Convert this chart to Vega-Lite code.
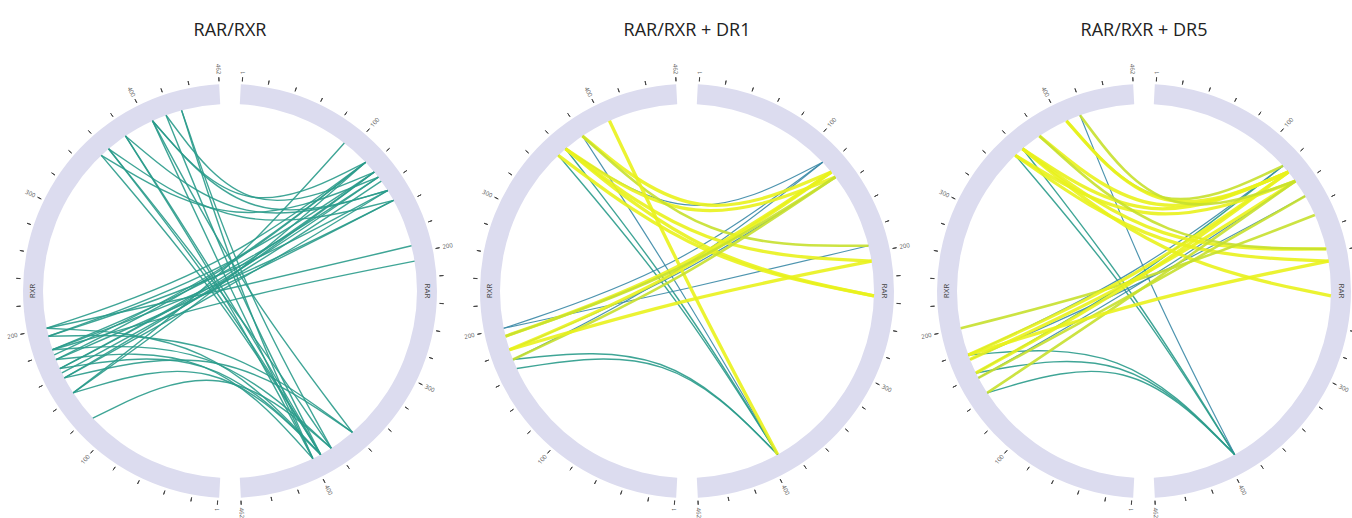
{
  "$schema": "https://vega.github.io/schema/vega-lite/v6.json",
  "padding": {"left": 6, "top": 21, "right": 0, "bottom": 0},
  "bounds": "flush",
  "spacing": 17,
  "config": {"view": {"stroke": null}, "font": "Open Sans"},
  "datasets": {
    "segs": [
      {"seg": "RAR", "start": 0, "end": 462, "mid": 231},
      {"seg": "RXR", "start": 0, "end": 462, "mid": 231}
    ],
    "ticks": [
      {"pos": 1, "lab": "1"}, {"pos": 20, "lab": ""}, {"pos": 40, "lab": ""}, {"pos": 60, "lab": ""}, {"pos": 80, "lab": ""},
      {"pos": 100, "lab": "100"}, {"pos": 120, "lab": ""}, {"pos": 140, "lab": ""}, {"pos": 160, "lab": ""}, {"pos": 180, "lab": ""},
      {"pos": 200, "lab": "200"}, {"pos": 220, "lab": ""}, {"pos": 240, "lab": ""}, {"pos": 260, "lab": ""}, {"pos": 280, "lab": ""},
      {"pos": 300, "lab": "300"}, {"pos": 320, "lab": ""}, {"pos": 340, "lab": ""}, {"pos": 360, "lab": ""}, {"pos": 380, "lab": ""},
      {"pos": 400, "lab": "400"}, {"pos": 420, "lab": ""}, {"pos": 440, "lab": ""}, {"pos": 462, "lab": "462"}
    ],
    "sites": [
      {"site": "c", "x": 0, "y": 0},
      {"site": "r38", "x": 0.6115, "y": 0.7912},
      {"site": "r46", "x": 0.7254, "y": 0.6884},
      {"site": "r48", "x": 0.7431, "y": 0.6691},
      {"site": "r50", "x": 0.7716, "y": 0.6361},
      {"site": "r52", "x": 0.7934, "y": 0.6088},
      {"site": "r54", "x": 0.8090, "y": 0.5878},
      {"site": "r57", "x": 0.8434, "y": 0.5373},
      {"site": "r59", "x": 0.8616, "y": 0.5075},
      {"site": "r61", "x": 0.8746, "y": 0.4848},
      {"site": "r66", "x": 0.9135, "y": 0.4067},
      {"site": "r76", "x": 0.9703, "y": 0.2419},
      {"site": "r77", "x": 0.9744, "y": 0.2250},
      {"site": "r81", "x": 0.9871, "y": 0.1599},
      {"site": "r91", "x": 0.9997, "y": -0.0262},
      {"site": "b139", "x": 0.6547, "y": -0.7559},
      {"site": "b147", "x": 0.5417, "y": -0.8406},
      {"site": "b151", "x": 0.4848, "y": -0.8746},
      {"site": "b154", "x": 0.4431, "y": -0.8965},
      {"site": "t316", "x": -0.6884, "y": 0.7254},
      {"site": "t319", "x": -0.6494, "y": 0.7604},
      {"site": "t326", "x": -0.5592, "y": 0.8290},
      {"site": "t335", "x": -0.4147, "y": 0.9100},
      {"site": "t340", "x": -0.3420, "y": 0.9397},
      {"site": "t345", "x": -0.2588, "y": 0.9659},
      {"site": "l227", "x": -0.7337, "y": -0.6794},
      {"site": "l237", "x": -0.8387, "y": -0.5446},
      {"site": "l242", "x": -0.8854, "y": -0.4648},
      {"site": "l244", "x": -0.8988, "y": -0.4384},
      {"site": "l245", "x": -0.9100, "y": -0.4147},
      {"site": "l248", "x": -0.9304, "y": -0.3665},
      {"site": "l250", "x": -0.9397, "y": -0.3420},
      {"site": "l252", "x": -0.9494, "y": -0.3140},
      {"site": "l256", "x": -0.9703, "y": -0.2419},
      {"site": "l258", "x": -0.9799, "y": -0.1994}
    ],
    "chords": [
      {"panel": 1, "id": "1-01", "kind": "a", "s1": "l258", "s2": "c", "s3": "r46"},
      {"panel": 1, "id": "1-02", "kind": "a", "s1": "l256", "s2": "c", "s3": "r50"},
      {"panel": 1, "id": "1-03", "kind": "a", "s1": "l252", "s2": "c", "s3": "r52"},
      {"panel": 1, "id": "1-04", "kind": "a", "s1": "l248", "s2": "c", "s3": "r46"},
      {"panel": 1, "id": "1-05", "kind": "a", "s1": "l245", "s2": "c", "s3": "r50"},
      {"panel": 1, "id": "1-06", "kind": "a", "s1": "l242", "s2": "c", "s3": "r57"},
      {"panel": 1, "id": "1-07", "kind": "a", "s1": "l237", "s2": "c", "s3": "r46"},
      {"panel": 1, "id": "1-08", "kind": "a", "s1": "l252", "s2": "c", "s3": "r61"},
      {"panel": 1, "id": "1-09", "kind": "a", "s1": "l245", "s2": "c", "s3": "r52"},
      {"panel": 1, "id": "1-10", "kind": "a", "s1": "l242", "s2": "c", "s3": "r50"},
      {"panel": 1, "id": "1-11", "kind": "a", "s1": "l256", "s2": "c", "s3": "r57"},
      {"panel": 1, "id": "1-12", "kind": "a", "s1": "l248", "s2": "c", "s3": "r61"},
      {"panel": 1, "id": "1-13", "kind": "a", "s1": "l258", "s2": "c", "s3": "r76"},
      {"panel": 1, "id": "1-14", "kind": "a", "s1": "l252", "s2": "c", "s3": "r81"},
      {"panel": 1, "id": "1-15", "kind": "a", "s1": "l237", "s2": "c", "s3": "r38"},
      {"panel": 1, "id": "1-16", "kind": "a", "s1": "l250", "s2": "c", "s3": "r46"},
      {"panel": 1, "id": "1-17", "kind": "a", "s1": "l244", "s2": "c", "s3": "r54"},
      {"panel": 1, "id": "1-18", "kind": "a", "s1": "t316", "s2": "c", "s3": "b151"},
      {"panel": 1, "id": "1-19", "kind": "a", "s1": "t319", "s2": "c", "s3": "b147"},
      {"panel": 1, "id": "1-20", "kind": "a", "s1": "t326", "s2": "c", "s3": "b151"},
      {"panel": 1, "id": "1-21", "kind": "a", "s1": "t335", "s2": "c", "s3": "b154"},
      {"panel": 1, "id": "1-22", "kind": "a", "s1": "t340", "s2": "c", "s3": "b151"},
      {"panel": 1, "id": "1-23", "kind": "a", "s1": "t345", "s2": "c", "s3": "b147"},
      {"panel": 1, "id": "1-24", "kind": "a", "s1": "t335", "s2": "c", "s3": "b139"},
      {"panel": 1, "id": "1-25", "kind": "a", "s1": "t326", "s2": "c", "s3": "b154"},
      {"panel": 1, "id": "1-26", "kind": "a", "s1": "t319", "s2": "c", "s3": "b151"},
      {"panel": 1, "id": "1-27", "kind": "a", "s1": "t345", "s2": "c", "s3": "b154"},
      {"panel": 1, "id": "1-28", "kind": "a", "s1": "t335", "s2": "c", "s3": "r46"},
      {"panel": 1, "id": "1-29", "kind": "a", "s1": "t340", "s2": "c", "s3": "r50"},
      {"panel": 1, "id": "1-30", "kind": "a", "s1": "t326", "s2": "c", "s3": "r57"},
      {"panel": 1, "id": "1-31", "kind": "a", "s1": "t316", "s2": "c", "s3": "r52"},
      {"panel": 1, "id": "1-32", "kind": "a", "s1": "t319", "s2": "c", "s3": "r61"},
      {"panel": 1, "id": "1-33", "kind": "a", "s1": "t335", "s2": "c", "s3": "r57"},
      {"panel": 1, "id": "1-34", "kind": "a", "s1": "l258", "s2": "c", "s3": "b151"},
      {"panel": 1, "id": "1-35", "kind": "a", "s1": "l252", "s2": "c", "s3": "b147"},
      {"panel": 1, "id": "1-36", "kind": "a", "s1": "l245", "s2": "c", "s3": "b151"},
      {"panel": 1, "id": "1-37", "kind": "a", "s1": "l242", "s2": "c", "s3": "b139"},
      {"panel": 1, "id": "1-38", "kind": "a", "s1": "l237", "s2": "c", "s3": "b151"},
      {"panel": 1, "id": "1-39", "kind": "a", "s1": "l227", "s2": "c", "s3": "b147"},
      {"panel": 1, "id": "1-40", "kind": "a", "s1": "l248", "s2": "c", "s3": "b154"},
      {"panel": 1, "id": "1-41", "kind": "a", "s1": "l256", "s2": "c", "s3": "b139"},
      {"panel": 2, "id": "2-01", "kind": "a", "s1": "t316", "s2": "c", "s3": "b151"},
      {"panel": 2, "id": "2-02", "kind": "a", "s1": "t319", "s2": "c", "s3": "b151"},
      {"panel": 2, "id": "2-03", "kind": "b", "s1": "t326", "s2": "c", "s3": "b151"},
      {"panel": 2, "id": "2-04", "kind": "a", "s1": "l245", "s2": "c", "s3": "b151"},
      {"panel": 2, "id": "2-05", "kind": "a", "s1": "l248", "s2": "c", "s3": "b151"},
      {"panel": 2, "id": "2-06", "kind": "b", "s1": "l258", "s2": "c", "s3": "r46"},
      {"panel": 2, "id": "2-07", "kind": "b", "s1": "l252", "s2": "c", "s3": "r52"},
      {"panel": 2, "id": "2-08", "kind": "b", "s1": "l248", "s2": "c", "s3": "r46"},
      {"panel": 2, "id": "2-09", "kind": "b", "s1": "l258", "s2": "c", "s3": "r76"},
      {"panel": 2, "id": "2-10", "kind": "b", "s1": "t319", "s2": "c", "s3": "r46"},
      {"panel": 2, "id": "2-11", "kind": "d", "s1": "t326", "s2": "c", "s3": "r50"},
      {"panel": 2, "id": "2-12", "kind": "d", "s1": "t319", "s2": "c", "s3": "r52"},
      {"panel": 2, "id": "2-13", "kind": "d", "s1": "t319", "s2": "c", "s3": "r91"},
      {"panel": 2, "id": "2-14", "kind": "d", "s1": "t316", "s2": "c", "s3": "r91"},
      {"panel": 2, "id": "2-15", "kind": "d", "s1": "t319", "s2": "c", "s3": "r81"},
      {"panel": 2, "id": "2-16", "kind": "c", "s1": "t326", "s2": "c", "s3": "r76"},
      {"panel": 2, "id": "2-17", "kind": "d", "s1": "t335", "s2": "c", "s3": "b151"},
      {"panel": 2, "id": "2-18", "kind": "d", "s1": "l256", "s2": "c", "s3": "r50"},
      {"panel": 2, "id": "2-19", "kind": "d", "s1": "l252", "s2": "c", "s3": "r50"},
      {"panel": 2, "id": "2-20", "kind": "c", "s1": "l248", "s2": "c", "s3": "r52"},
      {"panel": 2, "id": "2-21", "kind": "d", "s1": "l252", "s2": "c", "s3": "r81"},
      {"panel": 2, "id": "2-22", "kind": "c", "s1": "l256", "s2": "c", "s3": "r52"},
      {"panel": 3, "id": "3-01", "kind": "a", "s1": "t316", "s2": "c", "s3": "b151"},
      {"panel": 3, "id": "3-02", "kind": "a", "s1": "t319", "s2": "c", "s3": "b151"},
      {"panel": 3, "id": "3-03", "kind": "b", "s1": "t340", "s2": "c", "s3": "b151"},
      {"panel": 3, "id": "3-04", "kind": "a", "s1": "l250", "s2": "c", "s3": "b151"},
      {"panel": 3, "id": "3-05", "kind": "a", "s1": "l244", "s2": "c", "s3": "b151"},
      {"panel": 3, "id": "3-06", "kind": "a", "s1": "l237", "s2": "c", "s3": "b151"},
      {"panel": 3, "id": "3-07", "kind": "a", "s1": "l244", "s2": "c", "s3": "r48"},
      {"panel": 3, "id": "3-08", "kind": "b", "s1": "l242", "s2": "c", "s3": "r54"},
      {"panel": 3, "id": "3-09", "kind": "b", "s1": "l248", "s2": "c", "s3": "r59"},
      {"panel": 3, "id": "3-10", "kind": "b", "s1": "l250", "s2": "c", "s3": "r48"},
      {"panel": 3, "id": "3-11", "kind": "d", "s1": "t319", "s2": "c", "s3": "r50"},
      {"panel": 3, "id": "3-12", "kind": "d", "s1": "t326", "s2": "c", "s3": "r50"},
      {"panel": 3, "id": "3-13", "kind": "d", "s1": "t316", "s2": "c", "s3": "r54"},
      {"panel": 3, "id": "3-14", "kind": "c", "s1": "t335", "s2": "c", "s3": "r48"},
      {"panel": 3, "id": "3-15", "kind": "d", "s1": "t319", "s2": "c", "s3": "r77"},
      {"panel": 3, "id": "3-16", "kind": "d", "s1": "t319", "s2": "c", "s3": "r91"},
      {"panel": 3, "id": "3-17", "kind": "d", "s1": "t316", "s2": "c", "s3": "r81"},
      {"panel": 3, "id": "3-18", "kind": "c", "s1": "t326", "s2": "c", "s3": "r77"},
      {"panel": 3, "id": "3-19", "kind": "c", "s1": "l258", "s2": "c", "s3": "r66"},
      {"panel": 3, "id": "3-20", "kind": "d", "s1": "l250", "s2": "c", "s3": "r50"},
      {"panel": 3, "id": "3-21", "kind": "d", "s1": "l248", "s2": "c", "s3": "r54"},
      {"panel": 3, "id": "3-22", "kind": "d", "s1": "l244", "s2": "c", "s3": "r50"},
      {"panel": 3, "id": "3-23", "kind": "c", "s1": "l242", "s2": "c", "s3": "r59"},
      {"panel": 3, "id": "3-24", "kind": "c", "s1": "l237", "s2": "c", "s3": "r54"},
      {"panel": 3, "id": "3-25", "kind": "d", "s1": "l250", "s2": "c", "s3": "r81"},
      {"panel": 3, "id": "3-26", "kind": "d", "s1": "t335", "s2": "c", "s3": "r50"},
      {"panel": 3, "id": "3-27", "kind": "c", "s1": "t340", "s2": "c", "s3": "r54"}
    ]
  },
  "hconcat": [
    {
      "width": 440, "height": 440,
      "title": {"text": "RAR/RXR", "frame": "group", "anchor": "middle", "offset": 10, "baseline": "alphabetic", "fontSize": 18, "fontWeight": "normal", "font": "Open Sans", "color": "#222222"},
      "layer": [
        {"layer": [
          {"data": {"name": "segs"}, "transform": [{"filter": "datum.seg === 'RAR'"}], "mark": {"type": "arc", "radius": 207, "radius2": 187, "color": "#dcdcef"}, "encoding": {"theta": {"field": "start", "type": "quantitative", "stack": null, "scale": {"domain": [0, 462], "range": [0.05236, 3.08923]}}, "theta2": {"field": "end"}}},
          {"data": {"name": "ticks"}, "mark": {"type": "arc", "radius": 214, "radius2": 210, "filled": false, "color": "#444444", "strokeWidth": 1}, "encoding": {"theta": {"field": "pos", "type": "quantitative", "stack": null, "scale": {"domain": [0, 462], "range": [0.05236, 3.08923]}}, "theta2": {"field": "pos"}}},
          {"data": {"name": "ticks"}, "transform": [{"filter": "datum.lab !== ''"}], "mark": {"type": "text", "radius": 217, "align": "left", "baseline": "middle", "fontSize": 6, "color": "#555555"}, "encoding": {"theta": {"field": "pos", "type": "quantitative", "stack": null, "scale": {"domain": [0, 462], "range": [0.05236, 3.08923]}}, "angle": {"field": "pos", "type": "quantitative", "scale": {"domain": [0, 462], "range": [-87, 87]}}, "text": {"field": "lab"}}},
          {"data": {"name": "segs"}, "transform": [{"filter": "datum.seg === 'RAR'"}], "mark": {"type": "text", "radius": 197, "angle": 90, "align": "center", "baseline": "middle", "fontSize": 8, "color": "#444444"}, "encoding": {"theta": {"field": "mid", "type": "quantitative", "stack": null, "scale": {"domain": [0, 462], "range": [0.05236, 3.08923]}}, "text": {"field": "seg"}}}
        ]},
        {"layer": [
          {"data": {"name": "segs"}, "transform": [{"filter": "datum.seg === 'RXR'"}], "mark": {"type": "arc", "radius": 207, "radius2": 187, "color": "#dcdcef"}, "encoding": {"theta": {"field": "start", "type": "quantitative", "stack": null, "scale": {"domain": [0, 462], "range": [3.19395, 6.23083]}}, "theta2": {"field": "end"}}},
          {"data": {"name": "ticks"}, "mark": {"type": "arc", "radius": 214, "radius2": 210, "filled": false, "color": "#444444", "strokeWidth": 1}, "encoding": {"theta": {"field": "pos", "type": "quantitative", "stack": null, "scale": {"domain": [0, 462], "range": [3.19395, 6.23083]}}, "theta2": {"field": "pos"}}},
          {"data": {"name": "ticks"}, "transform": [{"filter": "datum.lab !== ''"}], "mark": {"type": "text", "radius": 217, "align": "right", "baseline": "middle", "fontSize": 6, "color": "#555555"}, "encoding": {"theta": {"field": "pos", "type": "quantitative", "stack": null, "scale": {"domain": [0, 462], "range": [3.19395, 6.23083]}}, "angle": {"field": "pos", "type": "quantitative", "scale": {"domain": [0, 462], "range": [-87, 87]}}, "text": {"field": "lab"}}},
          {"data": {"name": "segs"}, "transform": [{"filter": "datum.seg === 'RXR'"}], "mark": {"type": "text", "radius": 197, "angle": 270, "align": "center", "baseline": "middle", "fontSize": 8, "color": "#444444"}, "encoding": {"theta": {"field": "mid", "type": "quantitative", "stack": null, "scale": {"domain": [0, 462], "range": [3.19395, 6.23083]}}, "text": {"field": "seg"}}}
        ]},
        {"data": {"name": "chords"}, "transform": [{"filter": "datum.panel === 1"}, {"fold": ["s1", "s2", "s3"], "as": ["k", "site"]}, {"lookup": "site", "from": {"data": {"name": "sites"}, "key": "site", "fields": ["x", "y"]}}],
         "mark": {"type": "line", "interpolate": "bundle", "tension": 0.55, "opacity": 0.9},
         "encoding": {
           "x": {"field": "x", "type": "quantitative", "scale": {"domain": [-1.17647, 1.17647], "nice": false, "zero": false}, "axis": null},
           "y": {"field": "y", "type": "quantitative", "scale": {"domain": [-1.17647, 1.17647], "nice": false, "zero": false}, "axis": null},
           "detail": {"field": "id"},
           "order": {"field": "k", "type": "ordinal"},
           "color": {"field": "kind", "type": "nominal", "scale": {"domain": ["a", "b", "c", "d"], "range": ["#2a9b8b", "#3a88a6", "#c6e02e", "#e9f21c"]}, "legend": null},
           "strokeWidth": {"field": "kind", "type": "nominal", "scale": {"type": "ordinal", "domain": ["a", "b", "c", "d"], "range": [1.4, 1.2, 2.6, 3.3]}, "legend": null}
         }}
      ],
      "resolve": {"scale": {"theta": "independent"}}
    },
    {
      "width": 440, "height": 440,
      "title": {"text": "RAR/RXR + DR1", "frame": "group", "anchor": "middle", "offset": 10, "baseline": "alphabetic", "fontSize": 18, "fontWeight": "normal", "font": "Open Sans", "color": "#222222"},
      "layer": [
        {"layer": [
          {"data": {"name": "segs"}, "transform": [{"filter": "datum.seg === 'RAR'"}], "mark": {"type": "arc", "radius": 207, "radius2": 187, "color": "#dcdcef"}, "encoding": {"theta": {"field": "start", "type": "quantitative", "stack": null, "scale": {"domain": [0, 462], "range": [0.05236, 3.08923]}}, "theta2": {"field": "end"}}},
          {"data": {"name": "ticks"}, "mark": {"type": "arc", "radius": 214, "radius2": 210, "filled": false, "color": "#444444", "strokeWidth": 1}, "encoding": {"theta": {"field": "pos", "type": "quantitative", "stack": null, "scale": {"domain": [0, 462], "range": [0.05236, 3.08923]}}, "theta2": {"field": "pos"}}},
          {"data": {"name": "ticks"}, "transform": [{"filter": "datum.lab !== ''"}], "mark": {"type": "text", "radius": 217, "align": "left", "baseline": "middle", "fontSize": 6, "color": "#555555"}, "encoding": {"theta": {"field": "pos", "type": "quantitative", "stack": null, "scale": {"domain": [0, 462], "range": [0.05236, 3.08923]}}, "angle": {"field": "pos", "type": "quantitative", "scale": {"domain": [0, 462], "range": [-87, 87]}}, "text": {"field": "lab"}}},
          {"data": {"name": "segs"}, "transform": [{"filter": "datum.seg === 'RAR'"}], "mark": {"type": "text", "radius": 197, "angle": 90, "align": "center", "baseline": "middle", "fontSize": 8, "color": "#444444"}, "encoding": {"theta": {"field": "mid", "type": "quantitative", "stack": null, "scale": {"domain": [0, 462], "range": [0.05236, 3.08923]}}, "text": {"field": "seg"}}}
        ]},
        {"layer": [
          {"data": {"name": "segs"}, "transform": [{"filter": "datum.seg === 'RXR'"}], "mark": {"type": "arc", "radius": 207, "radius2": 187, "color": "#dcdcef"}, "encoding": {"theta": {"field": "start", "type": "quantitative", "stack": null, "scale": {"domain": [0, 462], "range": [3.19395, 6.23083]}}, "theta2": {"field": "end"}}},
          {"data": {"name": "ticks"}, "mark": {"type": "arc", "radius": 214, "radius2": 210, "filled": false, "color": "#444444", "strokeWidth": 1}, "encoding": {"theta": {"field": "pos", "type": "quantitative", "stack": null, "scale": {"domain": [0, 462], "range": [3.19395, 6.23083]}}, "theta2": {"field": "pos"}}},
          {"data": {"name": "ticks"}, "transform": [{"filter": "datum.lab !== ''"}], "mark": {"type": "text", "radius": 217, "align": "right", "baseline": "middle", "fontSize": 6, "color": "#555555"}, "encoding": {"theta": {"field": "pos", "type": "quantitative", "stack": null, "scale": {"domain": [0, 462], "range": [3.19395, 6.23083]}}, "angle": {"field": "pos", "type": "quantitative", "scale": {"domain": [0, 462], "range": [-87, 87]}}, "text": {"field": "lab"}}},
          {"data": {"name": "segs"}, "transform": [{"filter": "datum.seg === 'RXR'"}], "mark": {"type": "text", "radius": 197, "angle": 270, "align": "center", "baseline": "middle", "fontSize": 8, "color": "#444444"}, "encoding": {"theta": {"field": "mid", "type": "quantitative", "stack": null, "scale": {"domain": [0, 462], "range": [3.19395, 6.23083]}}, "text": {"field": "seg"}}}
        ]},
        {"data": {"name": "chords"}, "transform": [{"filter": "datum.panel === 2"}, {"fold": ["s1", "s2", "s3"], "as": ["k", "site"]}, {"lookup": "site", "from": {"data": {"name": "sites"}, "key": "site", "fields": ["x", "y"]}}],
         "mark": {"type": "line", "interpolate": "bundle", "tension": 0.55, "opacity": 0.9},
         "encoding": {
           "x": {"field": "x", "type": "quantitative", "scale": {"domain": [-1.17647, 1.17647], "nice": false, "zero": false}, "axis": null},
           "y": {"field": "y", "type": "quantitative", "scale": {"domain": [-1.17647, 1.17647], "nice": false, "zero": false}, "axis": null},
           "detail": {"field": "id"},
           "order": {"field": "k", "type": "ordinal"},
           "color": {"field": "kind", "type": "nominal", "scale": {"domain": ["a", "b", "c", "d"], "range": ["#2a9b8b", "#3a88a6", "#c6e02e", "#e9f21c"]}, "legend": null},
           "strokeWidth": {"field": "kind", "type": "nominal", "scale": {"type": "ordinal", "domain": ["a", "b", "c", "d"], "range": [1.4, 1.2, 2.6, 3.3]}, "legend": null}
         }}
      ],
      "resolve": {"scale": {"theta": "independent"}}
    },
    {
      "width": 440, "height": 440,
      "title": {"text": "RAR/RXR + DR5", "frame": "group", "anchor": "middle", "offset": 10, "baseline": "alphabetic", "fontSize": 18, "fontWeight": "normal", "font": "Open Sans", "color": "#222222"},
      "layer": [
        {"layer": [
          {"data": {"name": "segs"}, "transform": [{"filter": "datum.seg === 'RAR'"}], "mark": {"type": "arc", "radius": 207, "radius2": 187, "color": "#dcdcef"}, "encoding": {"theta": {"field": "start", "type": "quantitative", "stack": null, "scale": {"domain": [0, 462], "range": [0.05236, 3.08923]}}, "theta2": {"field": "end"}}},
          {"data": {"name": "ticks"}, "mark": {"type": "arc", "radius": 214, "radius2": 210, "filled": false, "color": "#444444", "strokeWidth": 1}, "encoding": {"theta": {"field": "pos", "type": "quantitative", "stack": null, "scale": {"domain": [0, 462], "range": [0.05236, 3.08923]}}, "theta2": {"field": "pos"}}},
          {"data": {"name": "ticks"}, "transform": [{"filter": "datum.lab !== ''"}], "mark": {"type": "text", "radius": 217, "align": "left", "baseline": "middle", "fontSize": 6, "color": "#555555"}, "encoding": {"theta": {"field": "pos", "type": "quantitative", "stack": null, "scale": {"domain": [0, 462], "range": [0.05236, 3.08923]}}, "angle": {"field": "pos", "type": "quantitative", "scale": {"domain": [0, 462], "range": [-87, 87]}}, "text": {"field": "lab"}}},
          {"data": {"name": "segs"}, "transform": [{"filter": "datum.seg === 'RAR'"}], "mark": {"type": "text", "radius": 197, "angle": 90, "align": "center", "baseline": "middle", "fontSize": 8, "color": "#444444"}, "encoding": {"theta": {"field": "mid", "type": "quantitative", "stack": null, "scale": {"domain": [0, 462], "range": [0.05236, 3.08923]}}, "text": {"field": "seg"}}}
        ]},
        {"layer": [
          {"data": {"name": "segs"}, "transform": [{"filter": "datum.seg === 'RXR'"}], "mark": {"type": "arc", "radius": 207, "radius2": 187, "color": "#dcdcef"}, "encoding": {"theta": {"field": "start", "type": "quantitative", "stack": null, "scale": {"domain": [0, 462], "range": [3.19395, 6.23083]}}, "theta2": {"field": "end"}}},
          {"data": {"name": "ticks"}, "mark": {"type": "arc", "radius": 214, "radius2": 210, "filled": false, "color": "#444444", "strokeWidth": 1}, "encoding": {"theta": {"field": "pos", "type": "quantitative", "stack": null, "scale": {"domain": [0, 462], "range": [3.19395, 6.23083]}}, "theta2": {"field": "pos"}}},
          {"data": {"name": "ticks"}, "transform": [{"filter": "datum.lab !== ''"}], "mark": {"type": "text", "radius": 217, "align": "right", "baseline": "middle", "fontSize": 6, "color": "#555555"}, "encoding": {"theta": {"field": "pos", "type": "quantitative", "stack": null, "scale": {"domain": [0, 462], "range": [3.19395, 6.23083]}}, "angle": {"field": "pos", "type": "quantitative", "scale": {"domain": [0, 462], "range": [-87, 87]}}, "text": {"field": "lab"}}},
          {"data": {"name": "segs"}, "transform": [{"filter": "datum.seg === 'RXR'"}], "mark": {"type": "text", "radius": 197, "angle": 270, "align": "center", "baseline": "middle", "fontSize": 8, "color": "#444444"}, "encoding": {"theta": {"field": "mid", "type": "quantitative", "stack": null, "scale": {"domain": [0, 462], "range": [3.19395, 6.23083]}}, "text": {"field": "seg"}}}
        ]},
        {"data": {"name": "chords"}, "transform": [{"filter": "datum.panel === 3"}, {"fold": ["s1", "s2", "s3"], "as": ["k", "site"]}, {"lookup": "site", "from": {"data": {"name": "sites"}, "key": "site", "fields": ["x", "y"]}}],
         "mark": {"type": "line", "interpolate": "bundle", "tension": 0.55, "opacity": 0.9},
         "encoding": {
           "x": {"field": "x", "type": "quantitative", "scale": {"domain": [-1.17647, 1.17647], "nice": false, "zero": false}, "axis": null},
           "y": {"field": "y", "type": "quantitative", "scale": {"domain": [-1.17647, 1.17647], "nice": false, "zero": false}, "axis": null},
           "detail": {"field": "id"},
           "order": {"field": "k", "type": "ordinal"},
           "color": {"field": "kind", "type": "nominal", "scale": {"domain": ["a", "b", "c", "d"], "range": ["#2a9b8b", "#3a88a6", "#c6e02e", "#e9f21c"]}, "legend": null},
           "strokeWidth": {"field": "kind", "type": "nominal", "scale": {"type": "ordinal", "domain": ["a", "b", "c", "d"], "range": [1.4, 1.2, 2.6, 3.3]}, "legend": null}
         }}
      ],
      "resolve": {"scale": {"theta": "independent"}}
    }
  ]
}
